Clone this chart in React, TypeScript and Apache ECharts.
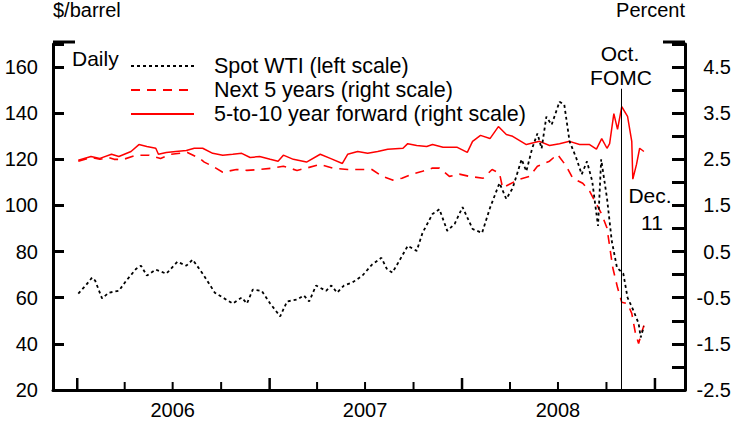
import React, { useEffect, useRef } from "react";
import * as echarts from "echarts";

// ---- Data ----
const wtiDates = [
  "2006-01-03","2006-01-17","2006-01-29","2006-02-04","2006-02-17","2006-03-02","2006-03-21","2006-04-04",
  "2006-04-23","2006-05-02","2006-05-13","2006-05-30","2006-06-19","2006-07-10","2006-07-27","2006-08-08",
  "2006-08-27","2006-09-19","2006-10-04","2006-10-23","2006-11-09","2006-11-19","2006-11-30","2006-12-17",
  "2007-01-02","2007-01-21","2007-02-03","2007-02-22","2007-03-07","2007-03-17","2007-03-30","2007-04-18",
  "2007-04-28","2007-05-09","2007-05-22","2007-06-07","2007-06-26","2007-07-14","2007-08-01","2007-08-12",
  "2007-08-22","2007-09-04","2007-09-20","2007-10-07","2007-10-18","2007-11-06","2007-11-19","2007-12-04",
  "2007-12-18","2008-01-02","2008-01-21","2008-02-08","2008-02-23","2008-03-12","2008-03-25","2008-04-06",
  "2008-04-23","2008-05-02","2008-05-13","2008-05-23","2008-05-31","2008-06-09","2008-06-19","2008-07-04",
  "2008-07-13","2008-07-23","2008-08-05","2008-08-15","2008-08-25","2008-09-04","2008-09-15","2008-09-21",
  "2008-10-02","2008-10-11","2008-10-21","2008-11-02","2008-11-10","2008-11-21","2008-12-01","2008-12-05",
  "2008-12-11"
];
const wtiPrice = [
  61.8, 65.3, 68.7, 67.4, 59.7, 62.2, 63.0, 67.4,
  72.6, 73.9, 69.6, 72.2, 70.4, 75.6, 73.9, 76.5,
  70.4, 62.2, 60.1, 57.5, 60.1, 57.5, 63.5, 63.0,
  57.5, 51.9, 58.4, 59.2, 61.0, 58.4, 65.3, 63.0,
  65.3, 62.2, 65.3, 66.6, 69.6, 74.3, 77.3, 72.2,
  70.9, 76.0, 82.5, 80.3, 88.1, 96.3, 98.4, 89.0,
  92.0, 99.3, 89.8, 88.1, 98.9, 109.7, 102.8, 107.5,
  120.0, 114.8, 124.7, 131.2, 124.7, 138.5, 135.0, 145.0,
  143.7, 127.8, 120.4, 113.5, 119.1, 110.5, 91.1, 120.0,
  103.2, 84.7, 73.0, 70.4, 60.1, 54.5, 48.9, 42.8,
  47.5
];

const next5Dates = [
  "2006-01-03","2006-01-27","2006-02-13","2006-03-02","2006-03-12","2006-03-30","2006-04-23","2006-05-17",
  "2006-06-08","2006-06-28","2006-07-29","2006-08-21","2006-08-30","2006-09-15","2006-10-04","2006-10-30",
  "2006-11-19","2006-12-13","2007-01-07","2007-01-27","2007-02-22","2007-03-12","2007-04-07","2007-05-01",
  "2007-05-29","2007-06-23","2007-07-14","2007-08-03","2007-08-22","2007-09-09","2007-09-28","2007-10-18",
  "2007-11-06","2007-11-19","2007-12-08","2007-12-27","2008-01-15","2008-02-10","2008-02-27","2008-03-12",
  "2008-03-18","2008-03-31","2008-04-19","2008-05-08","2008-05-23","2008-06-15","2008-06-30","2008-07-17",
  "2008-07-29","2008-08-17","2008-08-30","2008-09-12","2008-09-22","2008-10-02","2008-10-13","2008-10-22",
  "2008-10-30","2008-11-10","2008-11-18","2008-11-25","2008-12-01","2008-12-08","2008-12-11"
];
const next5Rate = [
  2.46, 2.54, 2.50, 2.54, 2.50, 2.50, 2.59, 2.59,
  2.52, 2.61, 2.65, 2.52, 2.44, 2.35, 2.22, 2.28,
  2.26, 2.28, 2.31, 2.35, 2.26, 2.31, 2.39, 2.31,
  2.28, 2.28, 2.28, 2.13, 2.05, 2.09, 2.18, 2.24,
  2.31, 2.31, 2.13, 2.18, 2.13, 2.09, 2.28, 2.20,
  1.88, 1.96, 2.07, 2.13, 2.35, 2.46, 2.61, 2.35,
  2.09, 1.98, 1.81, 1.53, 1.31, 1.01, 0.15, -0.28,
  -0.60, -0.63, -0.84, -1.27, -1.49, -1.21, -1.10
];

const fwdDates = [
  "2006-01-03","2006-01-27","2006-02-13","2006-03-07","2006-03-21","2006-04-13","2006-04-28","2006-05-13",
  "2006-05-30","2006-06-04","2006-06-19","2006-07-07","2006-07-27","2006-08-11","2006-08-27","2006-09-15",
  "2006-10-04","2006-10-23","2006-11-09","2006-11-25","2006-12-13","2007-01-02","2007-01-17","2007-01-27",
  "2007-02-15","2007-03-12","2007-04-07","2007-04-26","2007-05-19","2007-05-29","2007-06-17","2007-07-06",
  "2007-07-25","2007-08-13","2007-09-11","2007-09-20","2007-10-07","2007-10-26","2007-11-06","2007-11-26",
  "2007-12-23","2008-01-11","2008-01-21","2008-02-05","2008-02-23","2008-03-10","2008-03-25","2008-04-06",
  "2008-05-02","2008-05-27","2008-06-15","2008-07-04","2008-07-23","2008-08-11","2008-08-30","2008-09-12",
  "2008-09-22","2008-10-02","2008-10-07","2008-10-15","2008-10-22","2008-10-30","2008-11-10","2008-11-18",
  "2008-11-20","2008-11-27","2008-12-03","2008-12-11"
];
const fwdRate = [
  2.48, 2.56, 2.52, 2.61, 2.56, 2.67, 2.82, 2.78,
  2.74, 2.61, 2.65, 2.67, 2.69, 2.74, 2.74, 2.63,
  2.59, 2.61, 2.63, 2.54, 2.56, 2.50, 2.46, 2.59,
  2.50, 2.44, 2.61, 2.52, 2.41, 2.61, 2.67, 2.63,
  2.67, 2.72, 2.74, 2.84, 2.80, 2.78, 2.82, 2.76,
  2.76, 2.65, 2.89, 3.02, 2.95, 3.21, 3.04, 3.00,
  2.82, 2.89, 2.80, 2.84, 2.89, 2.82, 2.82, 2.72,
  2.95, 2.74, 2.84, 3.49, 3.15, 3.64, 3.43, 2.89,
  2.07, 2.39, 2.74, 2.67
];

// Quarter-start tick marks on the time axis (year starts are the long ones)
const quarterTicks = [
  "2006-01-01","2006-04-01","2006-07-01","2006-10-01",
  "2007-01-01","2007-04-01","2007-07-01","2007-10-01",
  "2008-01-01","2008-04-01","2008-07-01","2008-10-01",
  "2009-01-01"
];

const seriesNames = [
  "Spot WTI (left scale)",
  "Next 5 years (right scale)",
  "5-to-10 year forward (right scale)",
];
const fomcDate = "2008-10-29";
const leftAxisName = "$/barrel";
const rightAxisName = "Percent";
const xMin = "2005-11-16";
const xMax = "2009-02-27";

const FONT = "Liberation Sans, Arial, sans-serif";
const DAY = 24 * 3600 * 1000;

// layout
const G_LEFT = 53;
const G_RIGHT = 50;
const G_TOP = 42;
const G_BOTTOM = 33;
const W = 735;

export default function App() {
  const ref = useRef<HTMLDivElement>(null);

  useEffect(() => {
    if (!ref.current) return;
    const chart = echarts.init(ref.current, undefined, { renderer: "svg" });

    const pair = (d: string[], v: number[]) => d.map((x, i) => [x, v[i]]);

    const option: any = {
      animation: false,
      backgroundColor: "#ffffff",
      textStyle: { fontFamily: FONT, color: "#000" },
      grid: { left: G_LEFT, right: G_RIGHT, top: G_TOP, bottom: G_BOTTOM, containLabel: false },
      legend: {
        orient: "vertical",
        left: 130,
        top: 54,
        padding: 0,
        itemWidth: 63,
        itemHeight: 10,
        itemGap: 0,
        selectedMode: false,
        itemStyle: { opacity: 0, borderWidth: 0 },
        textStyle: {
          fontFamily: FONT,
          fontSize: 21.5,
          color: "#000",
          lineHeight: 24,
          padding: [0, 0, 0, 15],
        },
        data: seriesNames,
      },
      xAxis: [
        {
          type: "time",
          min: xMin,
          max: xMax,
          minInterval: 89 * DAY,
          maxInterval: 92 * DAY,
          splitLine: { show: false },
          axisLine: { show: true, onZero: false, lineStyle: { color: "#000", width: 3 } },
          axisTick: { show: false },
          axisLabel: {
            fontFamily: FONT,
            fontSize: 20,
            color: "#000",
            margin: 10,
            formatter: (v: number) => {
              const d = new Date(v);
              return d.getMonth() === 6 && d.getDate() === 1 ? String(d.getFullYear()) : "";
            },
          },
        },
      ],
      yAxis: [
        {
          type: "value",
          min: 20,
          max: 170,
          interval: 20,
          position: "left",
          name: leftAxisName,
          nameLocation: "end",
          nameGap: 24,
          nameTextStyle: { fontFamily: FONT, fontSize: 20, color: "#000", align: "left" },
          splitLine: { show: false },
          axisLine: { show: true, onZero: false, lineStyle: { color: "#000", width: 3 } },
          axisTick: { show: true, inside: true, length: 11, lineStyle: { color: "#000", width: 3 } },
          axisLabel: {
            fontFamily: FONT,
            fontSize: 20,
            color: "#000",
            margin: 15,
            formatter: (v: number) => (v > 165 ? "" : String(v)),
          },
        },
        {
          type: "value",
          min: -2.5,
          max: 5,
          interval: 0.5,
          position: "right",
          name: rightAxisName,
          nameLocation: "end",
          nameGap: 24,
          nameTextStyle: { fontFamily: FONT, fontSize: 20, color: "#000", align: "right" },
          splitLine: { show: false },
          axisLine: { show: true, onZero: false, lineStyle: { color: "#000", width: 3 } },
          axisTick: { show: true, inside: true, length: 13, lineStyle: { color: "#000", width: 3 } },
          axisLabel: {
            fontFamily: FONT,
            fontSize: 20,
            color: "#000",
            margin: 46,
            align: "right",
            formatter: (v: number) => (Math.abs(Math.round(v * 2)) % 2 === 1 ? v.toFixed(1) : ""),
          },
        },
      ],
      series: [
        {
          name: seriesNames[0],
          type: "line",
          xAxisIndex: 0,
          yAxisIndex: 0,
          showSymbol: false,
          symbol: "none",
          data: pair(wtiDates, wtiPrice),
          lineStyle: { color: "#000", width: 1.8, type: [3, 3] },
          itemStyle: { color: "#000" },
          z: 3,
          markLine: {
            silent: true,
            symbol: ["none", "none"],
            label: { show: false },
            lineStyle: { color: "#000", width: 1, type: "solid" },
            data: [[{ coord: [fomcDate, 20] }, { coord: [fomcDate, 150.6] }]],
          },
        },
        {
          name: seriesNames[1],
          type: "line",
          xAxisIndex: 0,
          yAxisIndex: 1,
          showSymbol: false,
          symbol: "none",
          data: pair(next5Dates, next5Rate),
          lineStyle: { color: "#ff0000", width: 1.6, type: [9, 7] },
          itemStyle: { color: "#ff0000" },
          z: 2,
        },
        {
          name: seriesNames[2],
          type: "line",
          xAxisIndex: 0,
          yAxisIndex: 1,
          showSymbol: false,
          symbol: "none",
          data: pair(fwdDates, fwdRate),
          lineStyle: { color: "#ff0000", width: 1.5, type: "solid" },
          itemStyle: { color: "#ff0000" },
          z: 2,
        },
        {
          name: "xticks",
          type: "custom",
          xAxisIndex: 0,
          yAxisIndex: 0,
          silent: true,
          clip: false,
          z: 5,
          data: quarterTicks.map((d) => [d, 20]),
          renderItem: (params: any, api: any) => {
            const p = api.coord([api.value(0), api.value(1)]);
            const d = new Date(api.value(0));
            const major = d.getMonth() === 0;
            return {
              type: "line",
              shape: { x1: p[0], y1: p[1], x2: p[0], y2: p[1] - (major ? 12 : 8) },
              style: { stroke: "#000", lineWidth: major ? 2.5 : 2 },
            };
          },
        },
      ],
      graphic: [
        { type: "line", shape: { x1: G_LEFT, y1: G_TOP, x2: G_LEFT + 22, y2: G_TOP }, style: { stroke: "#000", lineWidth: 3 } },
        { type: "line", shape: { x1: W - G_RIGHT - 22, y1: G_TOP, x2: W - G_RIGHT, y2: G_TOP }, style: { stroke: "#000", lineWidth: 3 } },
        { type: "text", left: 72, top: 48, style: { text: "Daily", font: `21px ${FONT}`, fill: "#000" } },
        { type: "text", x: 620, y: 53, style: { text: "Oct.", font: `21px ${FONT}`, fill: "#000", align: "center", verticalAlign: "middle" } },
        { type: "text", x: 621, y: 77, style: { text: "FOMC", font: `21px ${FONT}`, fill: "#000", align: "center", verticalAlign: "middle" } },
        { type: "text", x: 650, y: 195, style: { text: "Dec.", font: `21px ${FONT}`, fill: "#000", align: "center", verticalAlign: "middle" } },
        { type: "text", x: 652, y: 222, style: { text: "11", font: `21px ${FONT}`, fill: "#000", align: "center", verticalAlign: "middle" } },
      ],
    };

    chart.setOption(option);
    return () => chart.dispose();
  }, []);

  return (
    <div
      ref={ref}
      style={{ position: "fixed", left: 0, top: 0, width: 735, height: 423, background: "#fff" }}
    />
  );
}
